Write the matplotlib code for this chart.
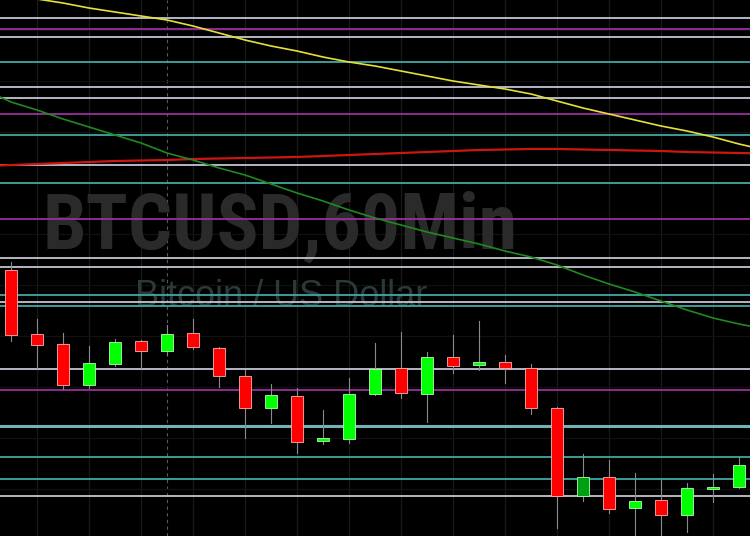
import numpy as np
import matplotlib.pyplot as plt
from matplotlib.patches import Rectangle

apertura = [270, 334, 344, 385, 364, 341, 351, 333, 348, 376, 408, 396, 441, 439, 394,
            368, 394, 357, 365, 362, 368, 408, 496, 477, 508, 500, 515, 487.5, 487]
cierre = [335, 345, 385, 363, 342, 351, 334, 347, 376, 408, 395, 442, 438, 394, 369,
          393, 357, 366, 362, 368, 408, 496, 477, 509, 501, 515, 488, 486.5, 465]
maximo = [262, 319, 333, 346, 339, 340, 325, 319, 347, 370, 384, 388, 410, 378, 343,
          332, 352, 335, 321, 355, 364, 407, 454, 460, 473, 480, 483, 474, 457]
minimo = [341, 368, 389, 388, 366, 368, 355, 349, 387, 438, 423, 453, 444, 443, 395,
          398, 422, 373, 370, 383, 414, 528, 501, 513, 545, 545, 532, 502, 488]

# Medias móviles, un valor por vela (desde la vela -1 hasta la 29)
ma_amarilla = [-10, -7, -1, 3, 8, 12, 16, 20, 26, 33, 40, 46, 51, 57, 62, 66, 71, 76,
               81, 85, 89, 94, 101, 108, 114, 120, 126, 131, 137, 144, 150]
ma_verde = [90, 102, 110, 119, 127, 135, 143, 153, 160, 168, 175, 184, 193, 201, 210,
            218, 225, 232, 238, 244, 251, 257, 265, 275, 284, 292, 301, 310, 318, 324, 329]
ma_roja = [166, 165, 164, 163, 162, 161, 160.5, 160, 159, 158.5, 158, 157.5, 157, 156,
           155, 154, 153, 152, 151, 150, 149.5, 149, 149, 149.5, 150, 150.5, 151, 152,
           152.5, 153, 153.5]

# Niveles horizontales
niveles = [18, 29, 37, 62, 87, 98, 114, 135, 165, 183, 219, 258, 267, 295, 302, 306,
           369, 390, 426, 457, 479, 496]
tipo_nivel = ['g', 'p', 'g', 't', 'g', 'g', 'p', 't', 'g', 't', 'p', 'g', 'g', 't', 'g', 't',
              'g', 'p', 'T', 't', 't', 'g']

colores = {'g': '#c4c4d4', 'p': '#9a2f9e', 't': '#3fa9a3', 'T': '#6fb4b8'}
grosor = {'g': 1.3, 'p': 1.3, 't': 1.3, 'T': 2.2}

fig = plt.figure(figsize=(7.5, 5.36), dpi=100)
ax = fig.add_axes([0, 0, 1, 1])
fig.patch.set_facecolor('black')
ax.set_facecolor('#030303')

# Rejilla tenue
for i in range(1, 29, 2):
    ax.axvline(i, color='#191919', lw=0.9, zorder=0)
ax.axvline(6, color='#5a5a5a', lw=0.8, ls=(0, (3, 3)), zorder=0)
for y in [30, 81, 132, 183, 234, 285, 336, 387, 438, 489]:
    ax.axhline(y, color='#111111', lw=0.9, zorder=0)

# Marca de agua (x en unidades de vela)
ax.text(10.35, 228, 'BTCUSD,60Min', fontsize=56, fontweight='bold', color='#2a2a2a',
        family=['Liberation Sans Narrow', 'Roboto Condensed', 'Open Sans Condensed',
                'DejaVu Sans'],
        fontstretch='condensed', ha='center', va='center', zorder=1)
ax.text(10.38, 297, 'Bitcoin / US Dollar', fontsize=26, color='#2c3939',
        family=['Liberation Sans', 'DejaVu Sans'], ha='center', va='center', zorder=1)

# Niveles
for y, t in zip(niveles, tipo_nivel):
    ax.axhline(y, color=colores[t], lw=grosor[t], zorder=2)

# Medias móviles
x_ma = np.arange(-1, 30)
ax.plot(x_ma, ma_roja, color='#d01414', lw=1.6, zorder=3)
ax.plot(x_ma, ma_verde, color='#1f8a1f', lw=1.2, zorder=3)
ax.plot(x_ma, ma_amarilla, color='#e6df3a', lw=1.2, zorder=3)

# Velas
ancho = 0.46
for i in range(len(apertura)):
    o, c, h, l = apertura[i], cierre[i], maximo[i], minimo[i]
    ax.plot([i, i], [h, l], color='#8a8a8a', lw=0.8, zorder=4)
    if c > o:
        color, borde = '#ff0000', '#ffb0b0'
    else:
        color, borde = '#00ff00', '#b0ffb0'
    if i == 22:
        color = '#00a010'
    alto = max(abs(c - o), 2)
    ax.add_patch(Rectangle((i - ancho / 2, min(o, c)), ancho, alto, facecolor=color,
                           edgecolor=borde, lw=0.6, zorder=5))

ax.set_xlim(-11 / 26, 739 / 26)
ax.set_ylim(536, 0)
ax.axis('off')

fig.savefig('out.png', dpi=100, facecolor='black')
